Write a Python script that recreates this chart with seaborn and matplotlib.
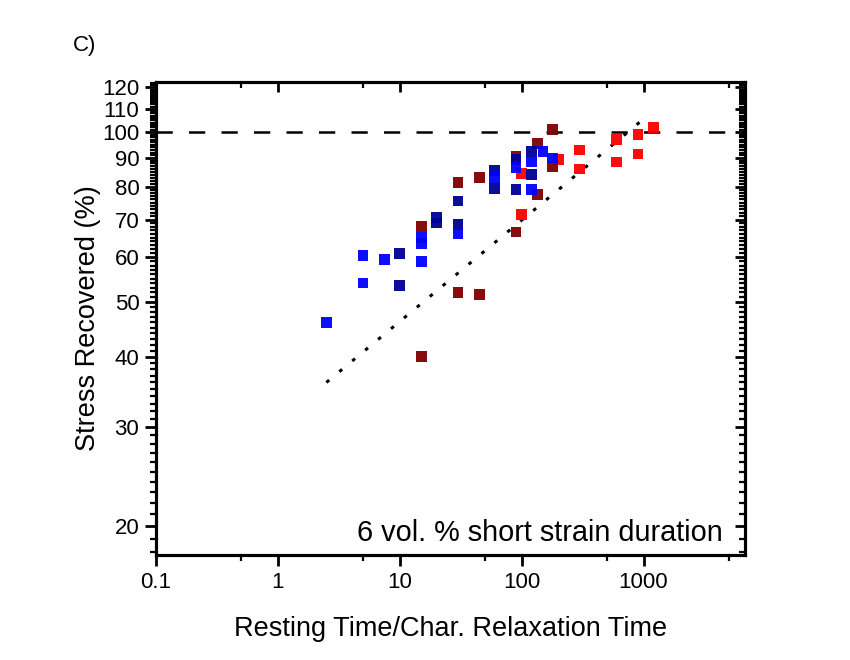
import numpy as np
import pandas as pd
import matplotlib
matplotlib.use("Agg")
import matplotlib.pyplot as plt
from matplotlib.ticker import FixedLocator, NullFormatter, FuncFormatter
import seaborn as sns

# ---- data ----
blue_x = [2.5, 5, 5, 7.5, 15, 15, 15, 30, 60, 90, 120, 120, 150, 180]
blue_y = [46, 60.5, 54, 59.5, 59, 65, 63.5, 66, 83, 86.5, 88.5, 79, 92.5, 90]

navy_x = [10, 10, 20, 20, 30, 30, 60, 60, 90, 90, 120, 120]
navy_y = [61, 53.5, 70.5, 69, 75.5, 68.5, 85.5, 79.5, 89.5, 79, 92.5, 84]

darkred_x = [15, 15, 30, 30, 45, 45, 90, 90, 135, 135, 180, 180]
darkred_y = [68, 40, 81.5, 52, 83, 51.5, 90.5, 66.5, 95.5, 77.5, 101, 87]

red_x = [100, 100, 200, 300, 300, 600, 600, 900, 900, 1200]
red_y = [84.5, 71.5, 89.5, 93, 86, 97, 88.5, 99, 91.5, 102]

fit_x = [2.5, 1000]
fit_y = [36, 105.5]

reference_level = 100

x_ticks = [0.1, 1, 10, 100, 1000]
x_minor = [0.5, 5, 50, 500, 5000]
y_ticks = [20, 30, 40, 50, 60, 70, 80, 90, 100, 110, 120]
y_minor = list(range(18, 124))

series_names = ["red", "darkred", "navy", "blue"]
series_colors = {"red": "#FF0000", "darkred": "#800000", "navy": "#000096", "blue": "#0000FF"}

frames = []
for name, xs, ys in [("red", red_x, red_y), ("darkred", darkred_x, darkred_y),
                     ("navy", navy_x, navy_y), ("blue", blue_x, blue_y)]:
    frames.append(pd.DataFrame({"x": xs, "y": ys, "series": name}))
df = pd.concat(frames, ignore_index=True)

# ---- style ----
sns.set_style("ticks")
plt.rcParams["font.family"] = ["Liberation Sans", "DejaVu Sans"]
for k in ["text.color", "axes.labelcolor", "xtick.color", "ytick.color", "axes.edgecolor"]:
    plt.rcParams[k] = "black"

fig = plt.figure(figsize=(8.5, 6.6), dpi=100)
ax = fig.add_axes([156 / 850, 1 - 555 / 660, (745 - 156) / 850, (555 - 82) / 660])

ax.set_xscale("log")
ax.set_yscale("log")

sns.scatterplot(data=df, x="x", y="y", hue="series", hue_order=series_names,
                palette=series_colors, marker="s", s=60, linewidth=0,
                alpha=0.95, legend=False, ax=ax, zorder=3)

ax.axhline(reference_level, color="black", lw=1.8, linestyle=(0, (6.5, 6.5)), zorder=2)
ax.plot(fit_x, fit_y, color="black", lw=2.2, linestyle=(0, (1.2, 4.3)), zorder=2)

xlim = (0.1, 6800)
ylim = (17.8, 122.7)
ax.set_xlim(*xlim)
ax.set_ylim(*ylim)

fmt = FuncFormatter(lambda v, p: f"{v:g}")
ax.xaxis.set_major_locator(FixedLocator(x_ticks))
ax.xaxis.set_minor_locator(FixedLocator(x_minor))
ax.xaxis.set_major_formatter(fmt)
ax.xaxis.set_minor_formatter(NullFormatter())
ax.yaxis.set_major_locator(FixedLocator(y_ticks))
ax.yaxis.set_minor_locator(FixedLocator([v for v in y_minor if v not in y_ticks]))
ax.yaxis.set_major_formatter(fmt)
ax.yaxis.set_minor_formatter(NullFormatter())

ax.tick_params(which="major", direction="out", length=8, width=2, labelsize=16, pad=4,
               colors="black")
ax.tick_params(which="minor", direction="out", length=4, width=1.6, colors="black")

for sp in ax.spines.values():
    sp.set_linewidth(2.2)
    sp.set_visible(True)
    sp.set_color("black")

# mirrored inward ticks on top and right
axr = ax.twinx()
axr.set_yscale("log")
axr.set_ylim(*ylim)
axr.yaxis.set_major_locator(FixedLocator(y_ticks))
axr.yaxis.set_minor_locator(FixedLocator([v for v in y_minor if v not in y_ticks]))
axr.yaxis.set_major_formatter(NullFormatter())
axr.yaxis.set_minor_formatter(NullFormatter())
axr.tick_params(which="major", direction="in", length=7, width=2, labelright=False, colors="black")
axr.tick_params(which="minor", direction="in", length=4, width=1.6, colors="black")

axt = ax.twiny()
axt.set_xscale("log")
axt.set_xlim(*xlim)
axt.xaxis.set_major_locator(FixedLocator(x_ticks))
axt.xaxis.set_minor_locator(FixedLocator(x_minor))
axt.xaxis.set_major_formatter(NullFormatter())
axt.xaxis.set_minor_formatter(NullFormatter())
axt.tick_params(which="major", direction="in", length=7, width=2, labeltop=False, colors="black")
axt.tick_params(which="minor", direction="in", length=4, width=1.6, colors="black")
for a in (axr, axt):
    for sp in a.spines.values():
        sp.set_linewidth(2.2)
        sp.set_color("black")

ax.set_xlabel("Resting Time/Char. Relaxation Time", fontsize=19.5, labelpad=17, color="black")
ax.set_ylabel("Stress Recovered (%)", fontsize=19.5, labelpad=1, color="black")

ax.text(0.963, 0.016, "6 vol. % short strain duration", transform=ax.transAxes,
        ha="right", va="bottom", fontsize=20.8, color="black")
fig.text(73 / 850, 1 - 51 / 660, "C)", fontsize=16, ha="left", va="baseline", color="black")

fig.savefig("out.png", dpi=100, facecolor="white")
